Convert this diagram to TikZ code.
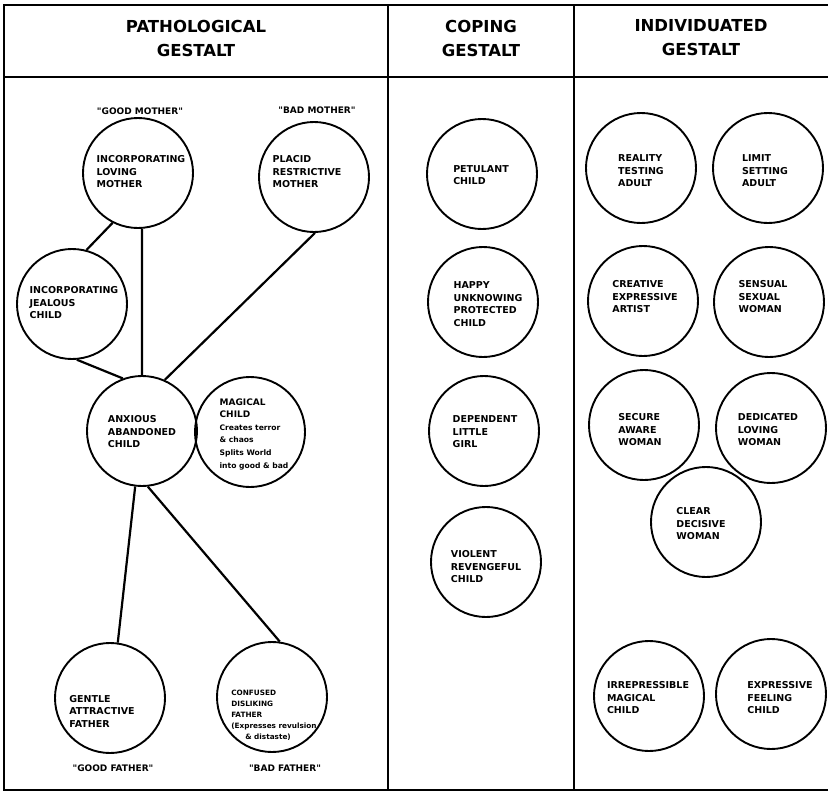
\documentclass[tikz,border=0pt]{standalone}
\usepackage{fontspec}
\setmainfont{DejaVu Sans}
\newfontfamily\djv{DejaVu Sans}
\begin{document}
\begin{tikzpicture}[x=1pt,y=-1pt]
\tikzset{
  frame/.style={line width=1.6pt},
  circ/.style={circle,draw,line width=1.9pt,minimum size=110pt,inner sep=0pt},
  ctext/.style={font=\djv\bfseries\fontsize{9.5}{12.5}\selectfont,align=left,inner sep=0pt},
  lbl/.style={font=\djv\bfseries\fontsize{9}{10}\selectfont,inner sep=0pt},
  head/.style={font=\bfseries\fontsize{16.5}{24}\selectfont,align=center,inner sep=0pt},
  conn/.style={line width=2.2pt}
}
\useasboundingbox (0,0) rectangle (828,793);
% frame
\draw[frame] (830,5) -- (4,5) -- (4,790) -- (830,790);
\draw[frame] (4,77) -- (830,77);
\draw[frame] (388,5) -- (388,790);
\draw[frame] (574,5) -- (574,790);
% headers
\node[head] (h1) at (196,38) {PATHOLOGICAL\\GESTALT};
\node[head] (h2) at (481,38) {COPING\\GESTALT};
\node[head] (h3) at (701,38) {INDIVIDUATED\\GESTALT};
% pathological circles
\node[circ] (mother) at (138,173) {};
\node[circ] (placid) at (314,177) {};
\node[circ] (jealous) at (72,304) {};
\node[circ] (anxious) at (142,431) {};
\node[circ] (magical) at (250,432) {};
\node[circ] (gentle) at (110,698) {};
\node[circ] (confused) at (272,697) {};
\node[ctext] (tmother) at (141,172) {INCORPORATING\\LOVING\\MOTHER};
\node[ctext] (tplacid) at (307,172) {PLACID\\RESTRICTIVE\\MOTHER};
\node[ctext] (tjealous) at (74,303) {INCORPORATING\\JEALOUS\\CHILD};
\node[ctext] (tanxious) at (142,432) {ANXIOUS\\ABANDONED\\CHILD};
\node[ctext,font=\djv\bfseries\fontsize{7.6}{12.6}\selectfont] (tmagical) at (254,434) {{\fontsize{9}{12.6}\selectfont MAGICAL}\\{\fontsize{9}{12.6}\selectfont CHILD}\\Creates terror\\\& chaos\\Splits World\\into good \& bad};
\node[ctext] (tgentle) at (102,711) {GENTLE\\ATTRACTIVE\\FATHER};
\node[ctext,font=\djv\bfseries\fontsize{7.3}{11}\selectfont] (tconfused) at (274,715) {CONFUSED\\DISLIKING\\FATHER\\(Expresses revulsion\\\hspace*{14pt}\& distaste)};
\node[lbl] (lgm) at (140,111) {"GOOD MOTHER"};
\node[lbl] (lbm) at (317,110) {"BAD MOTHER"};
\node[lbl] (lgf) at (113,768) {"GOOD FATHER"};
\node[lbl] (lbf) at (285,768) {"BAD FATHER"};
% connectors
\draw[conn] (mother.-117) -- (jealous.75);
\draw[conn] (mother.-86) -- (anxious.90);
\draw[conn] (placid.-89) -- (anxious.66);
\draw[conn] (jealous.-85) -- (anxious.110);
\draw[conn] (anxious.-97) -- (gentle.82);
\draw[conn] (anxious.-84) -- (confused.82);
% coping
\node[circ] (petulant) at (482,174) {};
\node[circ] (happy) at (483,302) {};
\node[circ] (dependent) at (484,431) {};
\node[circ] (violent) at (486,562) {};
\node[ctext] (tpetulant) at (481,175) {PETULANT\\CHILD};
\node[ctext] (thappy) at (488,304) {HAPPY\\UNKNOWING\\PROTECTED\\CHILD};
\node[ctext] (tdependent) at (485,432) {DEPENDENT\\LITTLE\\GIRL};
\node[ctext] (tviolent) at (486,567) {VIOLENT\\REVENGEFUL\\CHILD};
% individuated
\node[circ] (reality) at (641,168) {};
\node[circ] (limit) at (768,168) {};
\node[circ] (creative) at (643,301) {};
\node[circ] (sensual) at (769,302) {};
\node[circ] (secure) at (644,425) {};
\node[circ] (dedicated) at (771,428) {};
\node[circ] (clear) at (706,522) {};
\node[circ] (irrep) at (649,696) {};
\node[circ] (expressive) at (771,694) {};
\node[ctext] (treality) at (641,171) {REALITY\\TESTING\\ADULT};
\node[ctext] (tlimit) at (765,171) {LIMIT\\SETTING\\ADULT};
\node[ctext] (tcreative) at (645,297) {CREATIVE\\EXPRESSIVE\\ARTIST};
\node[ctext] (tsensual) at (763,297) {SENSUAL\\SEXUAL\\WOMAN};
\node[ctext] (tsecure) at (640,430) {SECURE\\AWARE\\WOMAN};
\node[ctext] (tdedicated) at (768,430) {DEDICATED\\LOVING\\WOMAN};
\node[ctext] (tclear) at (701,524) {CLEAR\\DECISIVE\\WOMAN};
\node[ctext] (tirrep) at (648,698) {IRREPRESSIBLE\\MAGICAL\\CHILD};
\node[ctext] (texpressive) at (780,698) {EXPRESSIVE\\FEELING\\CHILD};
\end{tikzpicture}
\end{document}
